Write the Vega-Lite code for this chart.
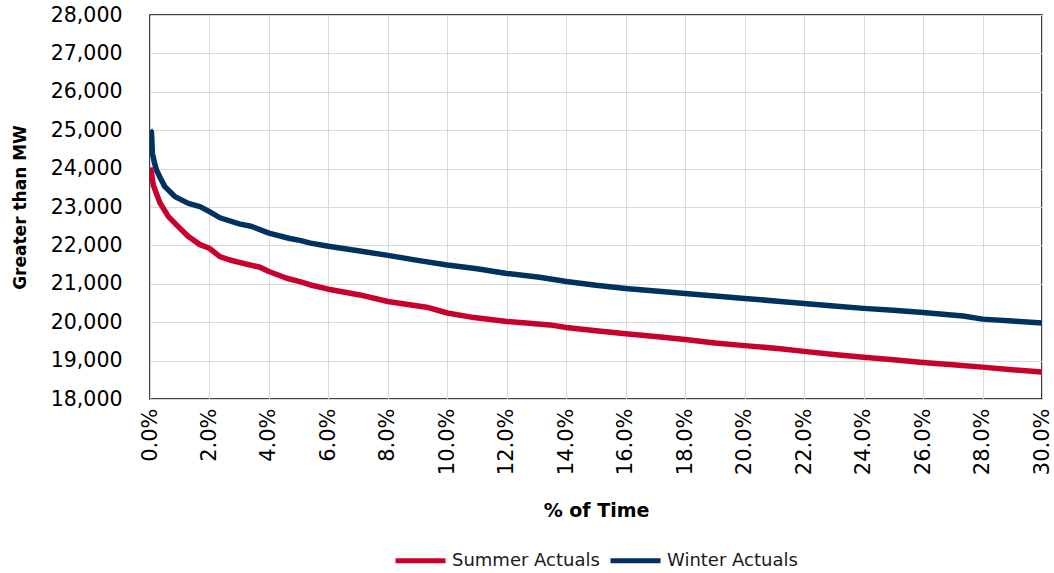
{
  "$schema": "https://vega.github.io/schema/vega-lite/v6.json",
  "autosize": "none",
  "width": 892,
  "height": 384,
  "padding": {"left": 150, "top": 15, "right": 12, "bottom": 174},
  "background": "white",
  "config": {
    "font": "DejaVu Sans",
    "view": {"stroke": "black", "strokeWidth": 1.5},
    "axis": {"gridColor": "#d9d9d9", "gridWidth": 1, "domain": false, "ticks": false, "labelColor": "#000000", "titleColor": "#000000"}
  },
  "data": {"values": [
    {"t": 0.0, "mw": 25000, "s": "Winter Actuals"},
    {"t": 0.0005, "mw": 24950, "s": "Winter Actuals"},
    {"t": 0.0008, "mw": 24400, "s": "Winter Actuals"},
    {"t": 0.0015, "mw": 24150, "s": "Winter Actuals"},
    {"t": 0.0022, "mw": 23960, "s": "Winter Actuals"},
    {"t": 0.0035, "mw": 23750, "s": "Winter Actuals"},
    {"t": 0.005, "mw": 23530, "s": "Winter Actuals"},
    {"t": 0.0084, "mw": 23270, "s": "Winter Actuals"},
    {"t": 0.0129, "mw": 23095, "s": "Winter Actuals"},
    {"t": 0.0168, "mw": 23010, "s": "Winter Actuals"},
    {"t": 0.02, "mw": 22880, "s": "Winter Actuals"},
    {"t": 0.0235, "mw": 22720, "s": "Winter Actuals"},
    {"t": 0.03, "mw": 22560, "s": "Winter Actuals"},
    {"t": 0.034, "mw": 22500, "s": "Winter Actuals"},
    {"t": 0.04, "mw": 22320, "s": "Winter Actuals"},
    {"t": 0.047, "mw": 22180, "s": "Winter Actuals"},
    {"t": 0.0504, "mw": 22130, "s": "Winter Actuals"},
    {"t": 0.054, "mw": 22060, "s": "Winter Actuals"},
    {"t": 0.06, "mw": 21980, "s": "Winter Actuals"},
    {"t": 0.07, "mw": 21860, "s": "Winter Actuals"},
    {"t": 0.08, "mw": 21740, "s": "Winter Actuals"},
    {"t": 0.09, "mw": 21610, "s": "Winter Actuals"},
    {"t": 0.10, "mw": 21490, "s": "Winter Actuals"},
    {"t": 0.11, "mw": 21390, "s": "Winter Actuals"},
    {"t": 0.12, "mw": 21270, "s": "Winter Actuals"},
    {"t": 0.131, "mw": 21170, "s": "Winter Actuals"},
    {"t": 0.14, "mw": 21060, "s": "Winter Actuals"},
    {"t": 0.15, "mw": 20960, "s": "Winter Actuals"},
    {"t": 0.16, "mw": 20880, "s": "Winter Actuals"},
    {"t": 0.17, "mw": 20810, "s": "Winter Actuals"},
    {"t": 0.18, "mw": 20750, "s": "Winter Actuals"},
    {"t": 0.19, "mw": 20680, "s": "Winter Actuals"},
    {"t": 0.20, "mw": 20620, "s": "Winter Actuals"},
    {"t": 0.212, "mw": 20540, "s": "Winter Actuals"},
    {"t": 0.22, "mw": 20490, "s": "Winter Actuals"},
    {"t": 0.23, "mw": 20420, "s": "Winter Actuals"},
    {"t": 0.24, "mw": 20360, "s": "Winter Actuals"},
    {"t": 0.25, "mw": 20310, "s": "Winter Actuals"},
    {"t": 0.26, "mw": 20255, "s": "Winter Actuals"},
    {"t": 0.2735, "mw": 20160, "s": "Winter Actuals"},
    {"t": 0.28, "mw": 20080, "s": "Winter Actuals"},
    {"t": 0.29, "mw": 20030, "s": "Winter Actuals"},
    {"t": 0.30, "mw": 19980, "s": "Winter Actuals"},
    {"t": 0.0, "mw": 24020, "s": "Summer Actuals"},
    {"t": 0.0005, "mw": 23900, "s": "Summer Actuals"},
    {"t": 0.0011, "mw": 23570, "s": "Summer Actuals"},
    {"t": 0.0034, "mw": 23100, "s": "Summer Actuals"},
    {"t": 0.0062, "mw": 22750, "s": "Summer Actuals"},
    {"t": 0.0095, "mw": 22490, "s": "Summer Actuals"},
    {"t": 0.0129, "mw": 22230, "s": "Summer Actuals"},
    {"t": 0.0168, "mw": 22020, "s": "Summer Actuals"},
    {"t": 0.02, "mw": 21925, "s": "Summer Actuals"},
    {"t": 0.0235, "mw": 21705, "s": "Summer Actuals"},
    {"t": 0.0269, "mw": 21620, "s": "Summer Actuals"},
    {"t": 0.03, "mw": 21560, "s": "Summer Actuals"},
    {"t": 0.037, "mw": 21430, "s": "Summer Actuals"},
    {"t": 0.04, "mw": 21320, "s": "Summer Actuals"},
    {"t": 0.046, "mw": 21145, "s": "Summer Actuals"},
    {"t": 0.0504, "mw": 21055, "s": "Summer Actuals"},
    {"t": 0.054, "mw": 20970, "s": "Summer Actuals"},
    {"t": 0.06, "mw": 20860, "s": "Summer Actuals"},
    {"t": 0.0706, "mw": 20710, "s": "Summer Actuals"},
    {"t": 0.08, "mw": 20540, "s": "Summer Actuals"},
    {"t": 0.093, "mw": 20390, "s": "Summer Actuals"},
    {"t": 0.10, "mw": 20240, "s": "Summer Actuals"},
    {"t": 0.109, "mw": 20120, "s": "Summer Actuals"},
    {"t": 0.12, "mw": 20020, "s": "Summer Actuals"},
    {"t": 0.1345, "mw": 19930, "s": "Summer Actuals"},
    {"t": 0.14, "mw": 19860, "s": "Summer Actuals"},
    {"t": 0.15, "mw": 19780, "s": "Summer Actuals"},
    {"t": 0.16, "mw": 19700, "s": "Summer Actuals"},
    {"t": 0.17, "mw": 19630, "s": "Summer Actuals"},
    {"t": 0.18, "mw": 19550, "s": "Summer Actuals"},
    {"t": 0.19, "mw": 19460, "s": "Summer Actuals"},
    {"t": 0.20, "mw": 19390, "s": "Summer Actuals"},
    {"t": 0.212, "mw": 19310, "s": "Summer Actuals"},
    {"t": 0.22, "mw": 19240, "s": "Summer Actuals"},
    {"t": 0.23, "mw": 19160, "s": "Summer Actuals"},
    {"t": 0.24, "mw": 19090, "s": "Summer Actuals"},
    {"t": 0.25, "mw": 19020, "s": "Summer Actuals"},
    {"t": 0.26, "mw": 18950, "s": "Summer Actuals"},
    {"t": 0.27, "mw": 18890, "s": "Summer Actuals"},
    {"t": 0.28, "mw": 18830, "s": "Summer Actuals"},
    {"t": 0.29, "mw": 18760, "s": "Summer Actuals"},
    {"t": 0.30, "mw": 18700, "s": "Summer Actuals"}
  ]},
  "mark": {"type": "line", "strokeWidth": 5.5, "strokeJoin": "round", "strokeCap": "butt", "clip": true},
  "encoding": {
    "x": {
      "field": "t", "type": "quantitative",
      "scale": {"domain": [0, 0.3], "nice": false, "zero": false},
      "axis": {
        "title": "% of Time",
        "format": ".1%",
        "values": [0, 0.02, 0.04, 0.06, 0.08, 0.10, 0.12, 0.14, 0.16, 0.18, 0.20, 0.22, 0.24, 0.26, 0.28, 0.30],
        "labelAngle": 270,
        "labelFontSize": 21,
        "labelPadding": 9,
        "labelFlush": false,
        "labelOverlap": false,
        "titleFontSize": 19,
        "titleFontWeight": "bold",
        "titleY": 111,
        "titleBaseline": "middle"
      }
    },
    "y": {
      "field": "mw", "type": "quantitative",
      "scale": {"domain": [18000, 28000], "nice": false, "zero": false},
      "axis": {
        "title": "Greater than MW",
        "format": ",.0f",
        "values": [18000, 19000, 20000, 21000, 22000, 23000, 24000, 25000, 26000, 27000, 28000],
        "labelFontSize": 20.5,
        "labelPadding": 28,
        "labelFlush": false,
        "labelOverlap": false,
        "titleFontSize": 17,
        "titleFontWeight": "bold",
        "titleX": -129.5,
        "titleY": 192,
        "titleAngle": 270,
        "titleBaseline": "middle",
        "titleAlign": "center"
      }
    },
    "color": {
      "field": "s", "type": "nominal",
      "scale": {"domain": ["Summer Actuals", "Winter Actuals"], "range": ["#c8002d", "#00325f"]},
      "legend": {
        "title": null,
        "orient": "none",
        "direction": "horizontal",
        "legendX": 243,
        "legendY": 518,
        "symbolType": "stroke",
        "symbolSize": 2500,
        "symbolStrokeWidth": 5,
        "labelFontSize": 18,
        "labelColor": "#1a1a1a",
        "labelOffset": 4,
        "columnPadding": 0
      }
    }
  }
}
